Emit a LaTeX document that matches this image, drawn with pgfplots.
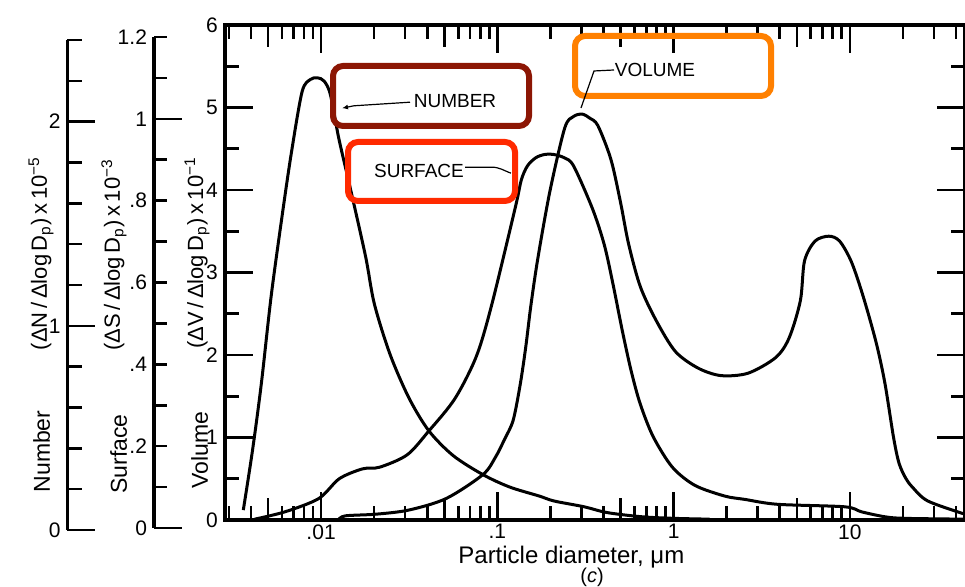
\documentclass[border=0pt]{standalone}
\usepackage{fontspec}
\setmainfont{Liberation Sans}
\usepackage{pgfplots}
\pgfplotsset{compat=1.18}
\usetikzlibrary{arrows.meta}
\definecolor{numcol}{RGB}{140,22,4}
\definecolor{surfcol}{RGB}{255,42,0}
\definecolor{volcol}{RGB}{255,128,0}
\pgfplotsset{
  sideaxis/.style={
    scale only axis, width=1pt, anchor=south west,
    hide x axis, axis y line*=left, xmin=0, xmax=1,
    tick align=inside,
    axis line style={line width=1.8pt, black},
    major tick style={line width=1.3pt, black},
    minor tick style={line width=1.3pt, black},
    tick label style={font=\fontsize{10.5}{12}\selectfont},
    /pgf/number format/assume math mode=true,
  }
}
\begin{document}
\begin{tikzpicture}
\path[use as bounding box] (0,0) rectangle (482.5pt,293.5pt);
% Number axis
\begin{axis}[sideaxis, at={(33.75pt,28.5pt)}, height=245pt, ymin=0, ymax=2.4,
  ytick={0,1,2}, yticklabels={0,1,2},
  minor ytick={0.2,0.4,0.6,0.8,1.2,1.4,1.6,1.8,2.2,2.4},
  major tick length=14pt, minor tick length=7.5pt]
\end{axis}
% Surface axis
\begin{axis}[sideaxis, at={(77pt,29.5pt)}, height=245.5pt, ymin=0, ymax=1.2,
  ytick={0,0.2,0.4,0.6,0.8,1,1.2}, yticklabels={0,.2,.4,.6,.8,1,1.2},
  minor ytick={0.1,0.3,0.5,0.7,0.9,1.1},
  major tick length=6.5pt, minor tick length=6.5pt,
  extra y ticks={0,1}, extra y tick labels={},
  extra y tick style={major tick length=14pt}]
\end{axis}
% Main (volume) axis
\begin{axis}[scale only axis, width=370pt, height=247.5pt,
  at={(112.5pt,33.5pt)}, anchor=south west,
  xmode=log, xmin=0.00285, xmax=45, ymin=0, ymax=6,
  ytick={0,1,2,3,4,5,6}, yticklabels={0,1,2,3,4,5,6},
  minor ytick={0.5,1.5,2.5,3.5,4.5,5.5},
  xtick={0.01,0.1,1,10}, xticklabels={.01,.1,1,10},
  minor xtick={0.003,0.004,0.006,0.007,0.008,0.009,0.02,0.03,0.04,0.06,0.07,0.08,0.09,0.2,0.3,0.4,0.6,0.7,0.8,0.9,2,3,4,6,7,8,9,20,30,40},
  extra x ticks={0.005,0.05,0.5,5}, extra x tick labels={},
  extra x tick style={major tick length=11pt},
  tick align=inside, major tick length=14pt, minor tick length=7pt,
  axis line style={line width=1.8pt, black},
  major tick style={line width=1.3pt, black},
  minor tick style={line width=1.3pt, black},
  tick label style={font=\fontsize{10.5}{12}\selectfont},
  xticklabel style={inner sep=1pt, yshift=-1pt},
  /pgf/number format/assume math mode=true,
]
% Number
\addplot[black, line width=1.5pt, smooth, tension=0.5] coordinates {
(0.00362,0.12) (0.00408,0.84) (0.00458,1.65) (0.0052,2.70) (0.00595,3.62)
(0.00676,4.43) (0.0078,5.19) (0.0087,5.34) (0.00954,5.36) (0.01040,5.32)
(0.01128,5.16) (0.01262,4.62)
(0.01469,4.01) (0.0179,3.19) (0.02005,2.62) (0.0246,2.01) (0.0315,1.48)
(0.0409,1.08) (0.0562,0.78) (0.0828,0.55) (0.1173,0.40) (0.173,0.29)
(0.21,0.23) (0.311,0.16) (0.419,0.09) (0.653,0.04) (1.0,0.02) (1.6,0.01)};
% Surface
\addplot[black, line width=1.5pt, smooth, tension=0.5] coordinates {
(0.0042,0.01) (0.00626,0.10) (0.0097,0.26) (0.01268,0.50) (0.0172,0.62)
(0.0215,0.64) (0.0308,0.79) (0.0409,1.08) (0.0574,1.47) (0.0759,1.98)
(0.0927,2.60) (0.1265,3.79) (0.1367,4.12) (0.148,4.29) (0.165,4.39)
(0.185,4.43) (0.2094,4.43) (0.240,4.39) (0.271,4.29) (0.347,3.77) (0.405,3.33) (0.455,2.84)
(0.511,2.30) (0.574,1.81) (0.646,1.41) (0.766,1.01) (0.984,0.64)
(1.32,0.42) (1.95,0.29) (2.53,0.25) (3.89,0.19) (9.34,0.16) (11.6,0.10)
(15.7,0.04) (20.4,0.02) (45,0.01)};
% Volume
\addplot[black, line width=1.5pt, smooth, tension=0.5] coordinates {
(0.0125,0.0) (0.0137,0.05) (0.0204,0.07) (0.0314,0.12) (0.0512,0.26)
(0.0828,0.55) (0.0975,0.76) (0.110,0.98) (0.123,1.21) (0.135,1.65)
(0.145,2.10) (0.155,2.60) (0.170,3.18) (0.199,3.99) (0.241,4.75)
(0.270,4.89) (0.303,4.92) (0.335,4.87) (0.372,4.78) (0.441,4.37)
(0.501,3.84) (0.555,3.35) (0.647,2.83) (0.800,2.41) (1.026,2.04)
(1.38,1.84) (1.86,1.75) (2.65,1.78) (3.80,1.97) (4.53,2.21) (5.24,2.66)
(5.53,3.14) (6.34,3.38) (7.60,3.44) (8.75,3.38) (10.2,3.13) (11.9,2.71)
(14.1,2.15) (15.8,1.66) (17.7,1.00) (19.0,0.69) (20.7,0.51) (22.6,0.40)
(27.7,0.23) (45,0.07)};
\end{axis}
% column labels
\begin{scope}[every node/.style={rotate=90, anchor=base, inner sep=0pt}]
\node[font=\fontsize{11.5}{13}\selectfont] at (25pt,67.75pt) {Number};
\node[font=\fontsize{11}{13}\selectfont] at (23.5pt,166.75pt) {(ΔN\,/\,Δlog\,D\textsubscript{p})\,x\,10\textsuperscript{−5}};
\node[font=\fontsize{11.5}{13}\selectfont] at (63.5pt,66.5pt) {Surface};
\node[font=\fontsize{11}{13}\selectfont] at (60pt,166pt) {(ΔS\,/\,Δlog\,D\textsubscript{p})\,x\,10\textsuperscript{−3}};
\node[font=\fontsize{11.5}{13}\selectfont] at (104pt,68.5pt) {Volume};
\node[font=\fontsize{11}{13}\selectfont] at (101.5pt,167pt) {(ΔV\,/\,Δlog\,D\textsubscript{p})\,x\,10\textsuperscript{−1}};
\end{scope}
\node[anchor=base west, font=\fontsize{12}{14}\selectfont, inner sep=0pt] at (229pt,11.5pt) {Particle diameter, μm};
\node[anchor=base, font=\fontsize{10}{12}\selectfont, inner sep=0pt] at (296pt,2pt) {(\textit{c})};
% annotation boxes
\draw[numcol, line width=3pt, rounded corners=5pt] (166.5pt,230.5pt) rectangle (264.5pt,260.5pt);
\node[font=\fontsize{9.5}{11}\selectfont] at (227.5pt,242.75pt) {NUMBER};
\draw[line width=0.6pt, -{Latex[length=3pt,width=2.5pt]}] (205pt,242.4pt) -- (177pt,240.6pt) -- (171pt,239.4pt);
\draw[surfcol, line width=3pt, rounded corners=5pt] (174pt,193pt) rectangle (257.5pt,222.5pt);
\node[font=\fontsize{9.5}{11}\selectfont] at (209.5pt,208.25pt) {SURFACE};
\draw[line width=0.6pt] (232.5pt,209.9pt) -- (245.8pt,209.9pt) to[out=0,in=160] (255.5pt,206.9pt);
\draw[volcol, line width=3pt, rounded corners=5pt] (287.5pt,245.5pt) rectangle (385.5pt,275.5pt);
\node[font=\fontsize{9.5}{11}\selectfont] at (327.5pt,258.75pt) {VOLUME};
\draw[line width=0.6pt] (307pt,258.5pt) -- (297pt,258pt) -- (290.5pt,239.5pt);
\end{tikzpicture}
\end{document}
